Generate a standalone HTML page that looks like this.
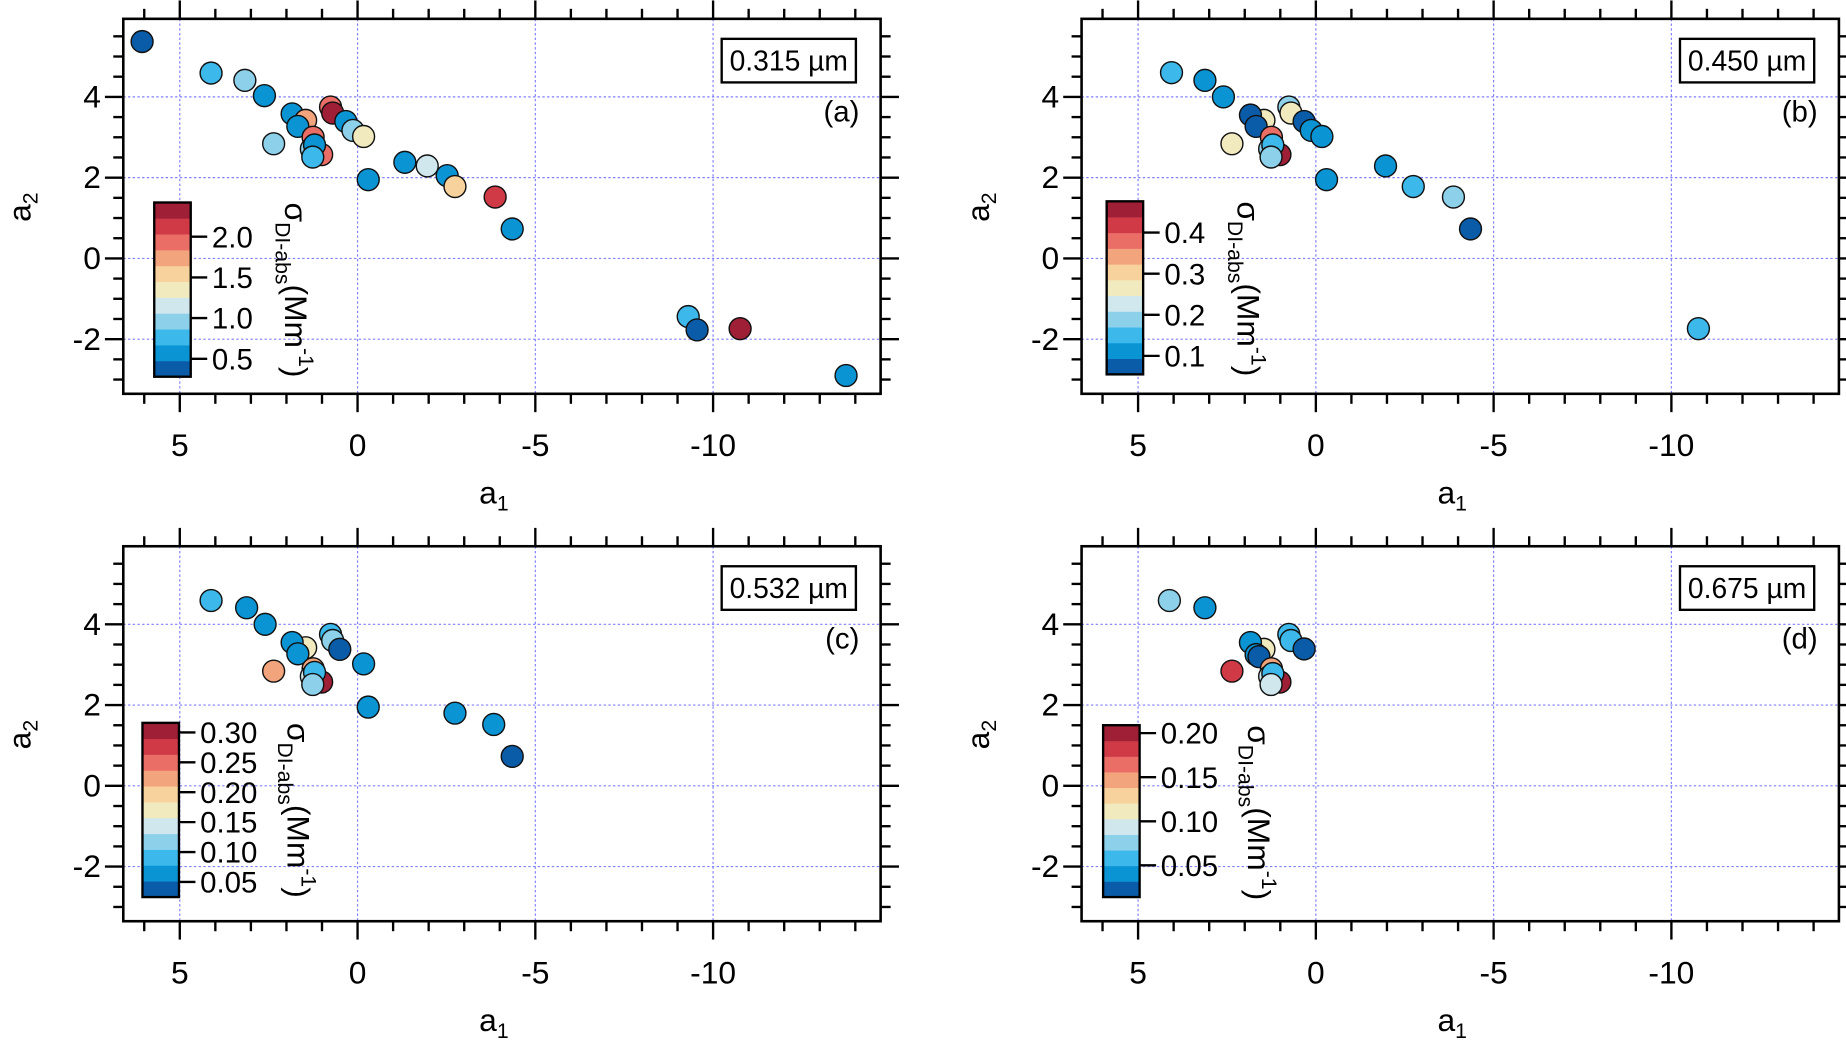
<!DOCTYPE html>
<html><head><meta charset="utf-8">
<style>
html,body{margin:0;padding:0;background:#fff;}
svg{display:block;font-family:"Liberation Sans",sans-serif;}
</style></head>
<body>
<svg id="fig" width="1846" height="1040" viewBox="0 0 1568 883.4" xmlns="http://www.w3.org/2000/svg"></svg>
<script>
// ---- data ----
const a1_a = [6.06,4.12,3.17,2.62,1.84,1.46,1.68,0.76,0.70,0.33,0.13,-0.17,2.36,1.25,1.01,1.30,1.21,1.26,-0.30,-1.33,-1.96,-2.52,-2.74,-3.87,-4.35,-9.30,-9.55,-10.76,-13.74];
const a2_a = [5.37,4.59,4.41,4.03,3.58,3.42,3.27,3.75,3.60,3.39,3.17,3.02,2.84,3.00,2.57,2.71,2.81,2.51,1.95,2.38,2.29,2.05,1.78,1.52,0.73,-1.44,-1.77,-1.74,-2.90];
const sig_a = [0.38,0.77,0.96,0.57,0.57,1.74,0.57,1.94,2.33,0.57,0.96,1.35,0.96,1.94,1.94,0.96,0.57,0.77,0.57,0.57,1.16,0.57,1.55,2.13,0.57,0.77,0.38,2.33,0.57];

const a1_b = [4.06,3.12,2.60,1.46,1.84,1.68,0.76,0.70,0.33,0.13,-0.17,2.36,1.25,1.01,1.30,1.21,1.26,-0.30,-1.96,-2.74,-3.87,-4.35,-10.76];
const a2_b = [4.60,4.41,4.00,3.42,3.55,3.27,3.75,3.60,3.39,3.17,3.02,2.84,3.00,2.57,2.71,2.81,2.51,1.95,2.29,1.78,1.52,0.73,-1.74];
const sig_b = [0.151,0.112,0.112,0.266,0.074,0.074,0.189,0.266,0.074,0.112,0.112,0.266,0.381,0.457,0.189,0.151,0.189,0.112,0.112,0.151,0.189,0.074,0.151];

const a1_c = [4.12,3.12,2.60,1.46,1.84,1.68,0.76,0.70,0.50,-0.17,2.36,1.25,1.01,1.30,1.21,1.26,-0.30,-2.74,-3.83,-4.35];
const a2_c = [4.59,4.41,4.00,3.42,3.55,3.27,3.75,3.60,3.38,3.02,2.84,2.90,2.57,2.71,2.81,2.51,1.95,1.80,1.52,0.73];
const sig_c = [0.091,0.064,0.064,0.170,0.064,0.064,0.091,0.117,0.038,0.064,0.223,0.223,0.303,0.144,0.091,0.117,0.064,0.064,0.064,0.038];

const a1_d = [4.12,3.12,1.46,1.84,1.68,1.60,0.76,0.70,0.33,2.36,1.25,1.01,1.30,1.21,1.26];
const a2_d = [4.59,4.41,3.38,3.55,3.25,3.20,3.75,3.60,3.39,2.84,2.90,2.57,2.71,2.78,2.51];
const sig_d = [0.076,0.041,0.111,0.041,0.041,0.023,0.058,0.058,0.023,0.182,0.147,0.200,0.094,0.058,0.094];

const cbTicks_a = [0.5,1.0,1.5,2.0];
const cbTicks_b = [0.1,0.2,0.3,0.4];
const cbTicks_c = [0.05,0.10,0.15,0.20,0.25,0.30];
const cbTicks_d = [0.05,0.10,0.15,0.20];
const cbLabels_a = ["0.5","1.0","1.5","2.0"];
const cbLabels_b = ["0.1","0.2","0.3","0.4"];
const cbLabels_c = ["0.05","0.10","0.15","0.20","0.25","0.30"];
const cbLabels_d = ["0.05","0.10","0.15","0.20"];
const cbRange_a = [0.28,2.42];
const cbRange_b = [0.055,0.476];
const cbRange_c = [0.0247,0.316];
const cbRange_d = [0.014,0.209];
const wavelengths = ["0.315 µm","0.450 µm","0.532 µm","0.675 µm"];
const panelTags = ["(a)","(b)","(c)","(d)"];
const xTicks = [5,0,-5,-10];
const xTickLabels = ["5","0","-5","-10"];
const yTicks = [4,2,0,-2];
const yTickLabels = ["4","2","0","-2"];

const bandColors = ["#0a5ca8","#0a94d4","#3cb9ea","#8dd0ea","#d0e7ee","#f2eabf","#f8d29c","#f2a47c","#ea6e66","#d03a47","#9e1f36"];

// ---- drawing ----
const NS = "http://www.w3.org/2000/svg";
const svg = document.getElementById("fig");
function mk(tag, attrs, parent){
  const e = document.createElementNS(NS, tag);
  for (const k in attrs) e.setAttribute(k, attrs[k]);
  (parent||svg).appendChild(e);
  return e;
}

const panels = [
  {ox:0,oy:0,a1:a1_a,a2:a2_a,s:sig_a,ct:cbTicks_a,cl:cbLabels_a,cr:cbRange_a,cb:[131,172,31,148],name:"a"},
  {ox:814,oy:0,a1:a1_b,a2:a2_b,s:sig_b,ct:cbTicks_b,cl:cbLabels_b,cr:cbRange_b,cb:[940,171,31,147],name:"b"},
  {ox:0,oy:448,a1:a1_c,a2:a2_c,s:sig_c,ct:cbTicks_c,cl:cbLabels_c,cr:cbRange_c,cb:[121,614,31,148],name:"c"},
  {ox:814,oy:448,a1:a1_d,a2:a2_d,s:sig_d,ct:cbTicks_d,cl:cbLabels_d,cr:cbRange_d,cb:[937,616,31,146],name:"d"}
];

panels.forEach((p, pi) => {
  const L = 104.7 + p.ox, R = 748 + p.ox, T = 16 + p.oy, B = 334.5 + p.oy;
  const xs = v => 303.7 + p.ox - v * 30.2;
  const ys = v => 219.5 + p.oy - v * 34.3;
  const g = mk("g", {});
  
  

  // grid
  xTicks.forEach(t => {
    const l = mk("line", {x1:xs(t), x2:xs(t), y1:T, y2:B, stroke:"#7f7fff", "stroke-width":1, "stroke-dasharray":"2,2"}, g);
    
    
  });
  yTicks.forEach(t => {
    const l = mk("line", {x1:L, x2:R, y1:ys(t), y2:ys(t), stroke:"#7f7fff", "stroke-width":1, "stroke-dasharray":"2,2"}, g);
    
    
  });

  // ticks
  const tg = mk("g", {stroke:"#000", "stroke-width":2}, g);
  
  
  for (let v = 6; v >= -14; v--) {
    const x = xs(v);
    if (x < L || x > R) continue;
    const major = (v % 5 === 0);
    const len = major ? 15.6 : 8.5;
    mk("line", {x1:x, x2:x, y1:B, y2:B+len}, tg);
    mk("line", {x1:x, x2:x, y1:T, y2:T-len}, tg);
  }
  for (let v = -3; v <= 5.5; v += 0.5) {
    const y = ys(v);
    if (y < T || y > B) continue;
    const major = (Math.abs(v % 2) < 1e-9);
    const len = major ? 15.6 : 8.5;
    mk("line", {x1:L, x2:L-len, y1:y, y2:y}, tg);
    mk("line", {x1:R, x2:R+len, y1:y, y2:y}, tg);
  }

  // tick labels
  xTicks.forEach((t, i) => {
    const tx = mk("text", {x:xs(t), y:387.5 + p.oy, "font-size":27, "text-anchor":"middle"}, g);
    tx.textContent = xTickLabels[i];
    
    
  });
  yTicks.forEach((t, i) => {
    const tx = mk("text", {x:L - 19, y:ys(t) + 9, "font-size":27, "text-anchor":"end"}, g);
    tx.textContent = yTickLabels[i];
    
    
  });

  // axis titles
  const xt = mk("text", {x:419.5 + p.ox, y:427.6 + p.oy, "font-size":27, "text-anchor":"middle"}, g);
  xt.innerHTML = 'a<tspan font-size="18" dy="6">1</tspan>';
  
  
  const yt = mk("text", {x:0, y:0, "font-size":27, "text-anchor":"middle", transform:`translate(${26 + p.ox},${176 + p.oy}) rotate(-90)`}, g);
  yt.innerHTML = 'a<tspan font-size="18" dy="6">2</tspan>';
  
  

  // colorbar
  const [cx, cy, cw, ch] = p.cb;
  const cbg = mk("g", {}, g);
  
  
  const n = bandColors.length;
  for (let k = 0; k < n; k++) {
    const r = mk("rect", {x:cx, y:cy + ch - (k + 1) * ch / n, width:cw, height:ch / n + 0.3, fill:bandColors[k]}, cbg);
    
    
  }
  mk("rect", {x:cx, y:cy, width:cw, height:ch, fill:"none", stroke:"#000", "stroke-width":2}, cbg);
  const [vmin, vmax] = p.cr;
  const cys = v => cy + ch - (v - vmin) / (vmax - vmin) * ch;
  p.ct.forEach((t, i) => {
    const y = cys(t);
    mk("line", {x1:cx + cw, x2:cx + cw + 14, y1:y, y2:y, stroke:"#000", "stroke-width":2}, cbg);
    const tx = mk("text", {x:cx + cw + 18, y:y + 9, "font-size":25}, cbg);
    tx.textContent = p.cl[i];
    
    
  });
  const lblX = (pi === 2 || pi === 3) ? cx + cw + (pi === 2 ? 92 : 92) : cx + cw + 80;
  const cl = mk("text", {x:0, y:0, "font-size":27, transform:`translate(${lblX},${cy}) rotate(90)`}, cbg);
  cl.innerHTML = 'σ<tspan font-size="18" dy="8">DI-abs</tspan><tspan dy="-8">(Mm</tspan><tspan font-size="18" dy="-12">-1</tspan><tspan dy="12">)</tspan>';
  
  

  // points
  p.a1.forEach((v, i) => {
    let k = Math.floor((p.s[i] - vmin) / (vmax - vmin) * n);
    k = Math.max(0, Math.min(n - 1, k));
    const c = mk("circle", {cx:xs(v), cy:ys(p.a2[i]), r:9.3, fill:bandColors[k], stroke:"#111", "stroke-width":1.2}, g);
    
    
  });

  // frame
  const fr = mk("rect", {x:L, y:T, width:R - L, height:B - T, fill:"none", stroke:"#000", "stroke-width":2.2}, g);
  
  

  // wavelength box
  const bx = 613 + p.ox, by = 33 + p.oy;
  const wb = mk("rect", {x:bx, y:by, width:114, height:37, fill:"#fff", stroke:"#000", "stroke-width":2}, g);
  
  
  const wt = mk("text", {x:bx + 57, y:by + 27, "font-size":24, "text-anchor":"middle"}, g);
  wt.textContent = wavelengths[pi];
  
  
  const pt = mk("text", {x:730 + p.ox, y:103 + p.oy, "font-size":25, "text-anchor":"end"}, g);
  pt.textContent = panelTags[pi];
  
  
});
</script>
</body></html>
